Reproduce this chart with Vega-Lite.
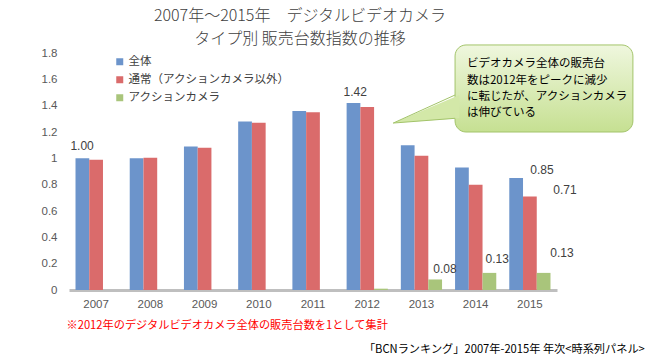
{
  "$schema": "https://vega.github.io/schema/vega-lite/v6.json",
  "autosize": "none",
  "width": 488,
  "height": 237,
  "padding": {"left": 69, "top": 53, "right": 93, "bottom": 70},
  "background": "white",
  "config": {
    "view": {"stroke": null},
    "font": "Noto Sans CJK JP"
  },
  "title": {
    "text": ["2007年～2015年　デジタルビデオカメラ", "タイプ別 販売台数指数の推移"],
    "anchor": "middle",
    "frame": "group",
    "dx": -13,
    "offset": -3,
    "fontSize": 16,
    "lineHeight": 23,
    "fontWeight": 300,
    "color": "#404040",
    "font": "Noto Sans CJK JP"
  },
  "datasets": {
    "bars": [
      {"year": "2007", "series": "全体", "value": 1.00},
      {"year": "2008", "series": "全体", "value": 1.00},
      {"year": "2009", "series": "全体", "value": 1.09},
      {"year": "2010", "series": "全体", "value": 1.28},
      {"year": "2011", "series": "全体", "value": 1.36},
      {"year": "2012", "series": "全体", "value": 1.42},
      {"year": "2013", "series": "全体", "value": 1.10},
      {"year": "2014", "series": "全体", "value": 0.93},
      {"year": "2015", "series": "全体", "value": 0.85},
      {"year": "2007", "series": "通常（アクションカメラ以外）", "value": 0.99},
      {"year": "2008", "series": "通常（アクションカメラ以外）", "value": 1.005},
      {"year": "2009", "series": "通常（アクションカメラ以外）", "value": 1.08},
      {"year": "2010", "series": "通常（アクションカメラ以外）", "value": 1.27},
      {"year": "2011", "series": "通常（アクションカメラ以外）", "value": 1.35},
      {"year": "2012", "series": "通常（アクションカメラ以外）", "value": 1.39},
      {"year": "2013", "series": "通常（アクションカメラ以外）", "value": 1.02},
      {"year": "2014", "series": "通常（アクションカメラ以外）", "value": 0.80},
      {"year": "2015", "series": "通常（アクションカメラ以外）", "value": 0.71},
      {"year": "2007", "series": "アクションカメラ", "value": 0},
      {"year": "2008", "series": "アクションカメラ", "value": 0},
      {"year": "2009", "series": "アクションカメラ", "value": 0},
      {"year": "2010", "series": "アクションカメラ", "value": 0},
      {"year": "2011", "series": "アクションカメラ", "value": 0},
      {"year": "2012", "series": "アクションカメラ", "value": 0.01},
      {"year": "2013", "series": "アクションカメラ", "value": 0.08},
      {"year": "2014", "series": "アクションカメラ", "value": 0.13},
      {"year": "2015", "series": "アクションカメラ", "value": 0.13}
    ],
    "labels": [
      {"id": "a", "year": "2007", "value": 1.00, "t": "1.00"},
      {"id": "b", "year": "2012", "value": 1.42, "t": "1.42"},
      {"id": "c", "year": "2015", "value": 0.85, "t": "0.85"},
      {"id": "d", "year": "2015", "value": 0.71, "t": "0.71"},
      {"id": "e", "year": "2013", "value": 0.08, "t": "0.08"},
      {"id": "f", "year": "2014", "value": 0.13, "t": "0.13"},
      {"id": "g", "year": "2015", "value": 0.13, "t": "0.13"}
    ],
    "box": [{"ax": 2013.62, "ax2": 2016.90, "value": 1.861, "value2": 1.200}],
    "tri": [
      {"ax": 2012.48, "value": 1.268, "value2": 1.268},
      {"ax": 2013.70, "value": 1.481, "value2": 1.304}
    ],
    "edges": [
      {"k": 1, "ax": 2013.62, "value": 1.481},
      {"k": 2, "ax": 2012.48, "value": 1.268},
      {"k": 3, "ax": 2013.62, "value": 1.304}
    ],
    "note": [{"ax": 2013.84, "value": 1.69, "t": "ビデオカメラ全体の販売台\n数は2012年をピークに減少\nに転じたが、アクションカメラ\nは伸びている"}],
    "source": [{"ax": 2017.12, "value": -0.456, "t": "「BCNランキング」2007年-2015年 年次<時系列パネル>"}]
  },
  "encoding": {
    "y": {
      "field": "value", "type": "quantitative",
      "scale": {"domain": [0, 1.8], "nice": false},
      "axis": {
        "title": null,
        "values": [0, 0.2, 0.4, 0.6, 0.8, 1, 1.2, 1.4, 1.6, 1.8],
        "format": "~g",
        "labelOverlap": false,
        "grid": false,
        "domain": false,
        "ticks": false,
        "tickSize": 0,
        "labelPadding": 12,
        "labelColor": "#595959",
        "labelFontSize": 11.5,
        "labelFont": "Liberation Sans"
      }
    }
  },
  "resolve": {"scale": {"x": "independent"}},
  "layer": [
    {
      "data": {"name": "bars"},
      "mark": {"type": "bar"},
      "encoding": {
        "x": {
          "field": "year", "type": "nominal",
          "scale": {"domain": ["2007","2008","2009","2010","2011","2012","2013","2014","2015"], "paddingInner": 0.24, "paddingOuter": 0.12},
          "axis": {
            "title": "※2012年のデジタルビデオカメラ全体の販売台数を1として集計",
            "titleColor": "#ff0000",
            "titleFontSize": 11.2,
            "titleFontWeight": "normal",
            "titleFont": "Noto Sans CJK JP",
            "titleAnchor": "start",
            "titleAlign": "left",
            "titleBaseline": "middle",
            "titleX": -3,
            "titleY": 35,
            "labelAngle": 0,
            "labelColor": "#595959",
            "labelFontSize": 11.5,
            "labelFont": "Liberation Sans",
            "labelPadding": 8,
            "ticks": false,
            "domainColor": "#bfbfbf",
            "domainWidth": 3,
            "grid": false
          }
        },
        "xOffset": {
          "field": "series", "type": "nominal",
          "scale": {"domain": ["全体", "通常（アクションカメラ以外）", "アクションカメラ"]}
        },
        "color": {
          "field": "series", "type": "nominal",
          "scale": {
            "domain": ["全体", "通常（アクションカメラ以外）", "アクションカメラ"],
            "range": ["#6c94cb", "#da6b6b", "#a9c57b"]
          },
          "legend": {
            "title": null,
            "orient": "none",
            "legendX": 45,
            "legendY": 3,
            "symbolType": "square",
            "symbolSize": 49,
            "symbolStrokeWidth": 0,
            "labelFontSize": 11.5,
            "labelColor": "#404040",
            "labelFont": "Noto Sans CJK JP",
            "labelLimit": 400,
            "labelOffset": 3,
            "rowPadding": 5
          }
        }
      }
    },
    {
      "data": {"name": "labels"},
      "transform": [{"filter": "datum.id == 'a'"}],
      "mark": {"type": "text", "dx": -14, "dy": -12, "baseline": "middle", "fontSize": 12, "color": "#404040", "font": "Liberation Sans"},
      "encoding": {
        "x": {"field": "year", "type": "nominal", "scale": {"domain": ["2007","2008","2009","2010","2011","2012","2013","2014","2015"], "paddingInner": 0.24, "paddingOuter": 0.12}, "axis": null},
        "text": {"field": "t"}
      }
    },
    {
      "data": {"name": "labels"},
      "transform": [{"filter": "datum.id == 'b'"}],
      "mark": {"type": "text", "dx": -12, "dy": -11, "baseline": "middle", "fontSize": 12, "color": "#404040", "font": "Liberation Sans"},
      "encoding": {
        "x": {"field": "year", "type": "nominal", "scale": {"domain": ["2007","2008","2009","2010","2011","2012","2013","2014","2015"], "paddingInner": 0.24, "paddingOuter": 0.12}, "axis": null},
        "text": {"field": "t"}
      }
    },
    {
      "data": {"name": "labels"},
      "transform": [{"filter": "datum.id == 'c'"}],
      "mark": {"type": "text", "dx": 12, "dy": -8, "baseline": "middle", "fontSize": 12, "color": "#404040", "font": "Liberation Sans"},
      "encoding": {
        "x": {"field": "year", "type": "nominal", "scale": {"domain": ["2007","2008","2009","2010","2011","2012","2013","2014","2015"], "paddingInner": 0.24, "paddingOuter": 0.12}, "axis": null},
        "text": {"field": "t"}
      }
    },
    {
      "data": {"name": "labels"},
      "transform": [{"filter": "datum.id == 'd'"}],
      "mark": {"type": "text", "dx": 35, "dy": -6.5, "baseline": "middle", "fontSize": 12, "color": "#404040", "font": "Liberation Sans"},
      "encoding": {
        "x": {"field": "year", "type": "nominal", "scale": {"domain": ["2007","2008","2009","2010","2011","2012","2013","2014","2015"], "paddingInner": 0.24, "paddingOuter": 0.12}, "axis": null},
        "text": {"field": "t"}
      }
    },
    {
      "data": {"name": "labels"},
      "transform": [{"filter": "datum.id == 'e'"}],
      "mark": {"type": "text", "dx": 23.5, "dy": -10.5, "baseline": "middle", "fontSize": 12, "color": "#404040", "font": "Liberation Sans"},
      "encoding": {
        "x": {"field": "year", "type": "nominal", "scale": {"domain": ["2007","2008","2009","2010","2011","2012","2013","2014","2015"], "paddingInner": 0.24, "paddingOuter": 0.12}, "axis": null},
        "text": {"field": "t"}
      }
    },
    {
      "data": {"name": "labels"},
      "transform": [{"filter": "datum.id == 'f'"}],
      "mark": {"type": "text", "dx": 21.5, "dy": -14, "baseline": "middle", "fontSize": 12, "color": "#404040", "font": "Liberation Sans"},
      "encoding": {
        "x": {"field": "year", "type": "nominal", "scale": {"domain": ["2007","2008","2009","2010","2011","2012","2013","2014","2015"], "paddingInner": 0.24, "paddingOuter": 0.12}, "axis": null},
        "text": {"field": "t"}
      }
    },
    {
      "data": {"name": "labels"},
      "transform": [{"filter": "datum.id == 'g'"}],
      "mark": {"type": "text", "dx": 32, "dy": -20, "baseline": "middle", "fontSize": 12, "color": "#404040", "font": "Liberation Sans"},
      "encoding": {
        "x": {"field": "year", "type": "nominal", "scale": {"domain": ["2007","2008","2009","2010","2011","2012","2013","2014","2015"], "paddingInner": 0.24, "paddingOuter": 0.12}, "axis": null},
        "text": {"field": "t"}
      }
    },
    {
      "data": {"name": "box"},
      "mark": {
        "type": "rect",
        "cornerRadius": 11,
        "stroke": "#a3c46a",
        "strokeWidth": 1,
        "color": {
          "gradient": "linear", "x1": 0, "y1": 0, "x2": 0, "y2": 1,
          "stops": [{"offset": 0, "color": "#eff7de"}, {"offset": 1, "color": "#c6e092"}]
        }
      },
      "encoding": {
        "x": {"field": "ax", "type": "quantitative", "scale": {"domain": [2006.5, 2015.5], "nice": false, "zero": false}, "axis": null},
        "x2": {"field": "ax2"},
        "y2": {"field": "value2"}
      }
    },
    {
      "data": {"name": "tri"},
      "mark": {"type": "area", "color": "#d3e8a8", "orient": "vertical", "opacity": 1},
      "encoding": {
        "x": {"field": "ax", "type": "quantitative", "scale": {"domain": [2006.5, 2015.5], "nice": false, "zero": false}, "axis": null},
        "y2": {"field": "value2"}
      }
    },
    {
      "data": {"name": "edges"},
      "mark": {"type": "line", "color": "#a3c46a", "strokeWidth": 1},
      "encoding": {
        "x": {"field": "ax", "type": "quantitative", "scale": {"domain": [2006.5, 2015.5], "nice": false, "zero": false}, "axis": null},
        "order": {"field": "k"}
      }
    },
    {
      "data": {"name": "note"},
      "mark": {"type": "text", "align": "left", "baseline": "alphabetic", "fontSize": 11.5, "lineHeight": 16.3, "lineBreak": "\n", "color": "#000000", "font": "Noto Sans CJK JP"},
      "encoding": {
        "x": {"field": "ax", "type": "quantitative", "scale": {"domain": [2006.5, 2015.5], "nice": false, "zero": false}, "axis": null},
        "text": {"field": "t"}
      }
    },
    {
      "data": {"name": "source"},
      "mark": {"type": "text", "align": "right", "baseline": "middle", "fontSize": 11.2, "color": "#000000", "font": "Noto Sans CJK JP"},
      "encoding": {
        "x": {"field": "ax", "type": "quantitative", "scale": {"domain": [2006.5, 2015.5], "nice": false, "zero": false}, "axis": null},
        "text": {"field": "t"}
      }
    }
  ]
}
